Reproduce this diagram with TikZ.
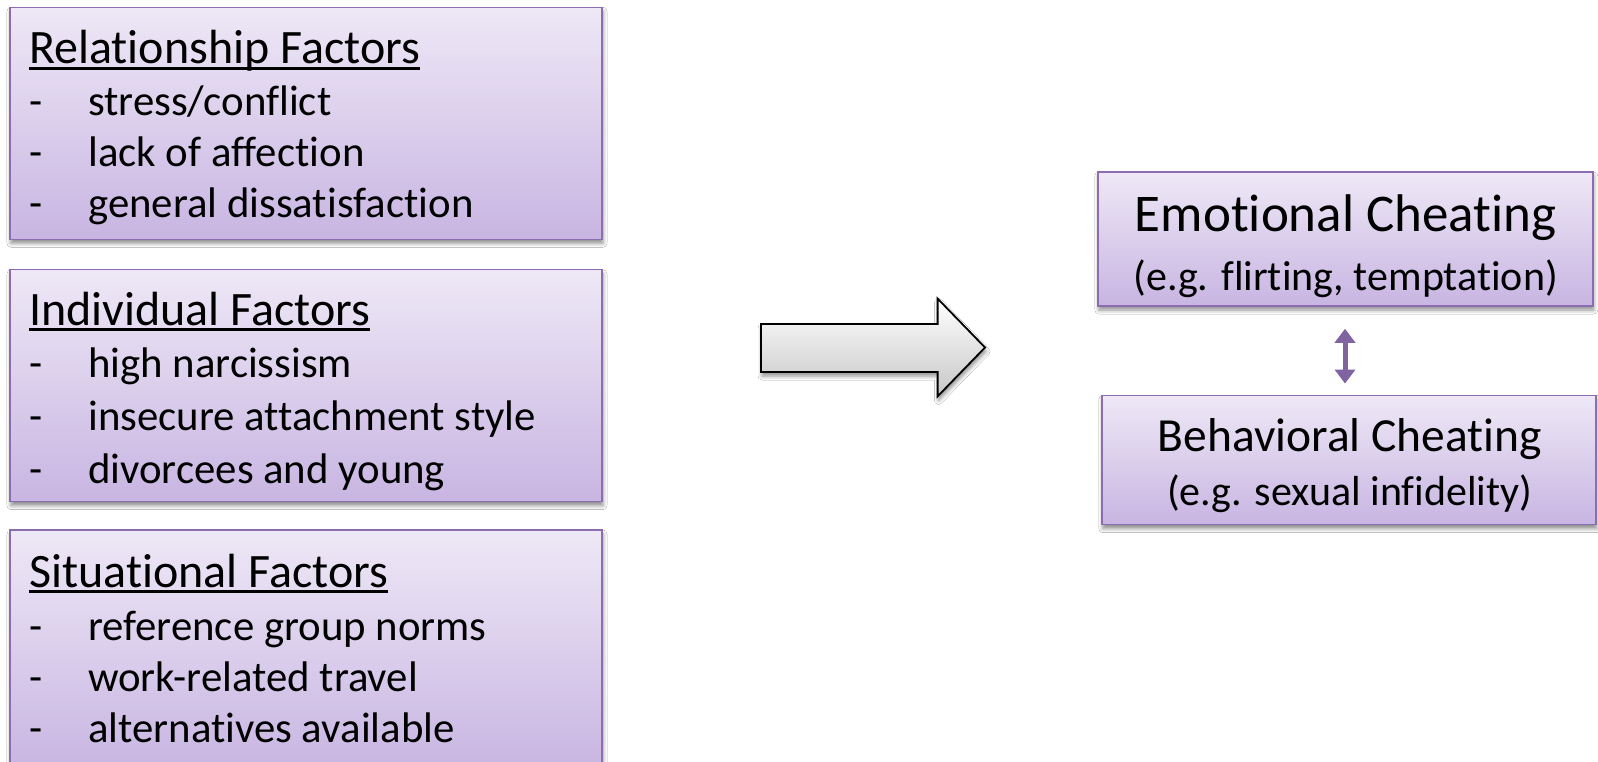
\documentclass[tikz,border=0pt]{standalone}
\usepackage{fontspec}
\setmainfont{Carlito}[Ligatures={NoCommon,NoDiscretionary,NoRare,NoContextual}]
\usetikzlibrary{arrows.meta,shadows.blur}
\newcommand{\myul}[1]{\setbox0\hbox{#1}\rlap{\rule[-0.12em]{\wd0}{0.055em}}\box0}
\definecolor{boxtop}{HTML}{EEE8F6}
\definecolor{boxbot}{HTML}{C8B5E2}
\definecolor{boxline}{HTML}{8C6DB0}
\definecolor{arrowpurple}{HTML}{8064A2}
\tikzset{
  factorbox/.style={rectangle, draw=boxline, line width=1.5pt, top color=boxtop, bottom color=boxbot,
    minimum width=592pt, minimum height=232pt, inner sep=0pt,
    blur shadow={shadow xshift=1pt, shadow yshift=-4pt, shadow blur radius=4pt, shadow opacity=45}},
  cheatbox/.style={factorbox, minimum width=495pt, minimum height=134pt},
  hdr/.style={anchor=base west, inner sep=0pt, font=\fontsize{48}{56}\selectfont},
  itm/.style={anchor=base west, inner sep=0pt, font=\fontsize{42.8}{50}\selectfont},
  big/.style={anchor=base, inner sep=0pt, font=\fontsize{53}{64}\selectfont},
  mid/.style={anchor=base, inner sep=0pt, font=\fontsize{47.5}{56}\selectfont},
  sml/.style={anchor=base, inner sep=0pt, font=\fontsize{42}{50}\selectfont},
}
\begin{document}
\begin{tikzpicture}[x=1pt,y=-1pt]
\clip (0,0) rectangle (1598,762);
\fill[white] (0,0) rectangle (1598,762);
% left boxes
\node[factorbox] (rel) at (306,123.3) {};
\node[factorbox] (ind) at (306,385.7) {};
\node[factorbox, minimum height=240pt] (sit) at (306,650) {};
% box 1 text
\node[hdr] (relh) at (29,64) {\myul{Relationship Factors}};
\node[itm] (reld1) at (29,116) {-};
\node[itm] (rel1) at (88,116) {stress/conflict};
\node[itm] (reld2) at (29,167) {-};
\node[itm] (rel2) at (88,167) {lack of affection};
\node[itm] (reld3) at (29,218) {-};
\node[itm] (rel3) at (88,218) {general dissatisfaction};
% box 2 text
\node[hdr] (indh) at (29,325) {\myul{Individual Factors}};
\node[itm] (indd1) at (29,377) {-};
\node[itm] (ind1) at (88,377) {high narcissism};
\node[itm] (indd2) at (29,430) {-};
\node[itm] (ind2) at (88,430) {insecure attachment style};
\node[itm] (indd3) at (29,483) {-};
\node[itm] (ind3) at (88,483) {divorcees and young};
% box 3 text
\node[hdr] (sith) at (29,587) {\myul{Situational Factors}};
\node[itm] (sitd1) at (29,640) {-};
\node[itm] (sit1) at (88,640) {reference group norms};
\node[itm] (sitd2) at (29,691) {-};
\node[itm] (sit2) at (88,691) {work-related travel};
\node[itm] (sitd3) at (29,742) {-};
\node[itm] (sit3) at (88,742) {alternatives available};
% big block arrow
\shade[top color=white, bottom color=black!22, draw=black, line width=1.8pt, line join=miter,
  blur shadow={shadow xshift=1pt, shadow yshift=-4pt, shadow blur radius=4pt, shadow opacity=45}]
  (761,324) -- (937.6,324) -- (937.6,298.6) -- (985,347.5) -- (937.6,396.4) -- (937.6,372) -- (761,372) -- cycle;
% right boxes
\node[cheatbox] (emo) at (1345.3,239) {};
\node[cheatbox, minimum width=494pt, minimum height=129.4pt] (beh) at (1348.8,460) {};
\node[big] (emo1) at (1345.7,232) {Emotional Cheating};
\node[sml] (emo2) at (1345.7,290) {(e.g. flirting, temptation)};
\node[mid] (beh1) at (1349.8,451) {Behavioral Cheating};
\node[sml] (beh2) at (1349.8,505) {(e.g. sexual infidelity)};
% double arrow
\draw[arrowpurple, line width=5pt, {Triangle[length=14pt,width=20pt]}-{Triangle[length=14pt,width=20pt]},
  shorten <=22pt, shorten >=11pt] ([xshift=-0.3pt]emo.south) -- ([xshift=-0.3pt]emo.south |- beh.north);
\end{tikzpicture}
\end{document}
